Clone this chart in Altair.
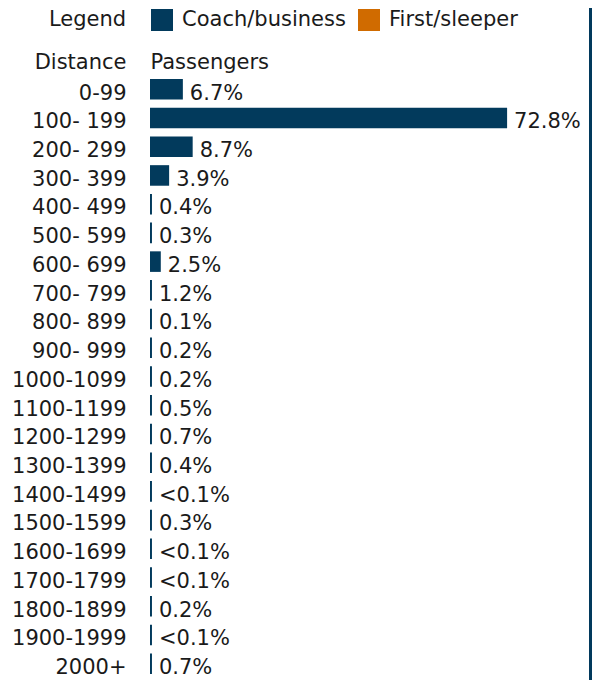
import altair as alt
import pandas as pd

# ---- data ----
categories = ["0-99", "100- 199", "200- 299", "300- 399", "400- 499", "500- 599",
              "600- 699", "700- 799", "800- 899", "900- 999", "1000-1099",
              "1100-1199", "1200-1299", "1300-1399", "1400-1499", "1500-1599",
              "1600-1699", "1700-1799", "1800-1899", "1900-1999", "2000+"]
labels = ["6.7%", "72.8%", "8.7%", "3.9%", "0.4%", "0.3%", "2.5%", "1.2%", "0.1%",
          "0.2%", "0.2%", "0.5%", "0.7%", "0.4%", "<0.1%", "0.3%", "<0.1%",
          "<0.1%", "0.2%", "<0.1%", "0.7%"]
# drawn bar lengths (percent) as they appear in the picture
bar_lengths = [6.7, 72.8, 8.7, 3.9, 0.4, 0.4, 2.2, 0.4, 0.4, 0.4, 0.4,
               0.4, 0.4, 0.4, 0.4, 0.4, 0.4, 0.4, 0.4, 0.4, 0.4]
series_names = ["Coach/business", "First/sleeper"]
series_colors = ["#023a5c", "#d06b00"]
row_series = ["Coach/business"] * len(categories)

df = pd.DataFrame({"distance": categories, "bar": bar_lengths,
                   "label": labels, "cls": row_series})

FONT = "DejaVu Sans"
FS = 21
TXT = "#1a1a1a"
W = 440
H = 595
PI = 0.284
BAND = H / (len(categories) - PI) * (1 - PI)

y_enc = alt.Y(
    "distance:N", sort=categories,
    scale=alt.Scale(paddingInner=PI, paddingOuter=0),
    axis=alt.Axis(title="Distance", titleAngle=0, titleAlign="right",
                  titleBaseline="alphabetic", titleX=-24, titleY=-11,
                  titleFont=FONT, titleFontSize=FS, titleFontWeight="normal",
                  titleColor=TXT, labelFont=FONT, labelFontSize=FS,
                  labelColor=TXT, labelPadding=24, labelBaseline="alphabetic",
                  labelOffset=BAND / 2, ticks=False, tickSize=0,
                  domain=False, grid=False),
)
x_enc = alt.X(
    "bar:Q",
    scale=alt.Scale(domain=[0, 89.7], nice=False),
    axis=alt.Axis(orient="top", title="Passengers", labels=False, ticks=False,
                  domain=False, grid=False, titleX=0, titleY=-11,
                  titleAlign="left", titleBaseline="alphabetic",
                  titleFont=FONT, titleFontSize=FS, titleFontWeight="normal",
                  titleColor=TXT),
)

bars = alt.Chart(df).mark_bar().encode(
    x=x_enc,
    y=y_enc,
    color=alt.Color(
        "cls:N",
        scale=alt.Scale(domain=series_names, range=series_colors),
        legend=alt.Legend(
            title="Legend", orient="none", legendX=-101, legendY=-70,
            direction="horizontal", titleOrient="left", titleAnchor="middle",
            titleBaseline="middle", titlePadding=24,
            titleFont=FONT, titleFontSize=FS, titleFontWeight="normal",
            titleColor=TXT, labelFont=FONT, labelFontSize=FS, labelColor=TXT,
            labelLimit=400, symbolType="square", symbolSize=484,
            symbolStrokeWidth=0, symbolOpacity=1, labelOffset=9,
            columnPadding=12, padding=0,
        ),
    ),
)

texts = alt.Chart(df).mark_text(
    align="left", baseline="alphabetic", dx=7, dy=BAND / 2,
    font=FONT, fontSize=FS, color=TXT
).encode(
    x=alt.X("bar:Q"),
    y=alt.Y("distance:N", sort=categories),
    text="label:N",
)

border = alt.Chart(df).mark_rule(color="#023a5c", strokeWidth=2.5).encode(
    x=alt.value(W + 0.5), y=alt.value(-90), y2=alt.value(H + 20)
)

chart = alt.layer(bars, texts, border).properties(
    width=W, height=H,
    autosize=alt.AutoSizeParams(type="none"),
    padding={"left": 142, "top": 71, "right": 3, "bottom": 6},
).configure_view(stroke="transparent")

chart.save("out.html", embed_options={"renderer": "svg", "actions": False})
